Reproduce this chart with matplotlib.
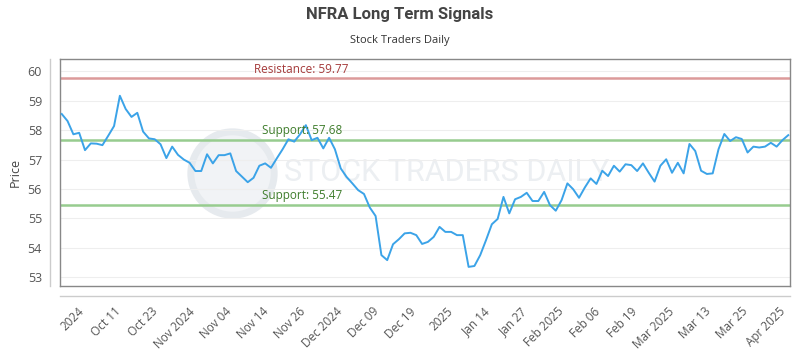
import numpy as np
import matplotlib
matplotlib.use("Agg")
import matplotlib.pyplot as plt
from matplotlib.lines import Line2D

# precios de cierre
precios = [58.55, 58.31, 57.86, 57.91, 57.32, 57.55, 57.54, 57.49, 57.81, 58.14,
           59.17, 58.72, 58.45, 58.59, 57.95, 57.72, 57.69, 57.52, 57.05, 57.44,
           57.16, 57.00, 56.89, 56.61, 56.61, 57.18, 56.87, 57.15, 57.15, 57.21,
           56.61, 56.42, 56.23, 56.38, 56.79, 56.87, 56.72, 57.04, 57.35, 57.69,
           57.61, 57.86, 58.17, 57.66, 57.74, 57.38, 57.74, 57.35, 56.70, 56.41,
           56.19, 55.96, 55.83, 55.37, 55.08, 53.75, 53.58, 54.12, 54.29, 54.49,
           54.51, 54.43, 54.13, 54.20, 54.37, 54.71, 54.54, 54.54, 54.43, 54.43,
           53.35, 53.38, 53.75, 54.26, 54.80, 54.98, 55.73, 55.17, 55.65, 55.73,
           55.87, 55.59, 55.59, 55.90, 55.45, 55.26, 55.62, 56.19, 55.99, 55.70,
           56.05, 56.36, 56.17, 56.62, 56.44, 56.79, 56.59, 56.84, 56.81, 56.61,
           56.87, 56.55, 56.25, 56.79, 57.01, 56.55, 56.89, 56.53, 57.53, 57.29,
           56.62, 56.51, 56.53, 57.35, 57.87, 57.63, 57.76, 57.70, 57.24, 57.44,
           57.41, 57.44, 57.57, 57.44, 57.66, 57.83]

etiquetas_x = ["2024", "Oct 11", "Oct 23", "Nov 2024", "Nov 04", "Nov 14", "Nov 26",
               "Dec 2024", "Dec 09", "Dec 19", "2025", "Jan 14", "Jan 27", "Feb 2025",
               "Feb 06", "Feb 19", "Mar 2025", "Mar 13", "Mar 25", "Apr 2025"]

resistencia = 59.77
soportes = [57.68, 55.47]

fuente = "Open Sans"
fuente_titulo = "Roboto"

fig = plt.figure(figsize=(8, 3.5), dpi=100)
W, H = 800, 350
izq, der, arriba, abajo = 60, 790, 59, 286
ax = fig.add_axes([izq / W, 1 - abajo / H, (der - izq) / W, (abajo - arriba) / H])

# marca de agua
ax.plot([0.236], [0.50], marker="o", markersize=60, color="#f1f3f6",
        markeredgecolor="#e6eaee", markeredgewidth=5, transform=ax.transAxes, zorder=0)
ax.text(0.53, 0.50, "STOCK TRADERS DAILY", transform=ax.transAxes, ha="center", va="center",
        fontsize=22, color="#eceff2", family=fuente_titulo, zorder=0)

x = np.arange(len(precios))
ax.plot(x, precios, color="#3ba3e8", lw=1.4, zorder=3)

ax.axhline(resistencia, color="#dc9a9a", lw=1.8, zorder=2)
ax.text(0.266, resistencia + 0.08, f"Resistance: {resistencia:.2f}", transform=ax.get_yaxis_transform(),
        ha="left", va="bottom", color="#a53a3a", fontsize=8.5, family=fuente)
for s in soportes:
    ax.axhline(s, color="#97cc8f", lw=1.8, zorder=2)
    ax.text(0.277, s + 0.08, f"Support: {s:.2f}", transform=ax.get_yaxis_transform(),
            ha="left", va="bottom", color="#3f7d2c", fontsize=8.5, family=fuente)

ax.set_xlim(-0.3, len(precios) - 0.7)
ax.set_ylim(52.70, 60.42)
ax.set_yticks(range(53, 61))
ax.grid(axis="y", color="#eeeeee", lw=0.8)
ax.set_axisbelow(True)

pos_x = np.linspace(3.5, 124.1, len(etiquetas_x))
ax.set_xticks(pos_x)
ax.set_xticklabels(etiquetas_x, rotation=45, ha="right", va="center", rotation_mode="anchor",
                   family=fuente, fontsize=8.5, color="#555555")
ax.tick_params(axis="x", length=0, pad=17)
ax.tick_params(axis="y", length=0, pad=13, labelsize=9, labelcolor="#555555")
for lab in ax.get_yticklabels():
    lab.set_family(fuente)

for sp in ax.spines.values():
    sp.set_color("#888888")
    sp.set_linewidth(1)

ax.set_ylabel("Price", family=fuente, fontsize=9, color="#444444", labelpad=4)

# lineas de eje separadas
fig.add_artist(Line2D([50 / W, 50 / W], [1 - abajo / H, 1 - arriba / H], color="#cccccc", lw=1))
fig.add_artist(Line2D([izq / W, der / W], [1 - 296 / H, 1 - 296 / H], color="#cccccc", lw=1))

fig.text(0.5, 1 - 15 / H, "NFRA Long Term Signals", ha="center", va="center",
         fontsize=12, fontweight="bold", color="#444444", family=fuente_titulo)
fig.text(0.5, 1 - 40 / H, "Stock Traders Daily", ha="center", va="center",
         fontsize=8, color="#333333", family=fuente)

fig.savefig("out.png", dpi=100)
